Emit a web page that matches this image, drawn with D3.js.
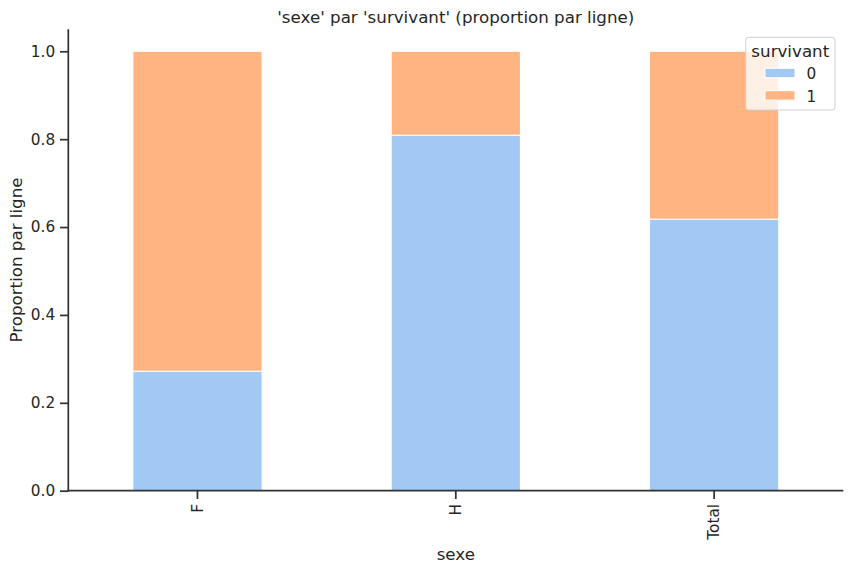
<!DOCTYPE html>
<html><head><meta charset="utf-8">
<script src="https://cdn.jsdelivr.net/npm/d3@7"></script>
<style>body{margin:0;background:#fff;} text{font-family:"DejaVu Sans",sans-serif;fill:#262626;}</style>
</head><body>
<svg id="c" width="853" height="571"></svg>
<script>
const categories = ["F", "H", "Total"];
const series = ["0", "1"];
const values0 = [0.272, 0.809, 0.618];
const values1 = [0.728, 0.191, 0.382];
const yTicks = [0.0, 0.2, 0.4, 0.6, 0.8, 1.0];
const colors = ["#a1c9f4", "#ffb482"];

const svg = d3.select("#c");
const mLeft = 68.3, mRight = 843.3, mTop = 29.3, mBottom = 490.7;
const tickFs = 15.3, labelFs = 16.7, tickLen = 8.3, tickPad = 4.9, lineW = 1.74, axisCol = "#333";
const y = d3.scaleLinear().domain([0, 1.05]).range([mBottom, mTop]);
const xl = d3.scaleLinear().domain([-0.5, categories.length - 0.5]).range([mLeft, mRight]);
const bw = xl(0.5) - xl(0);

const data = categories.map((c, i) => ({cat: c, i, v0: values0[i], v1: values1[i]}));
const stack = d3.stack().keys(["v0", "v1"])(data);

const g = svg.append("g");
stack.forEach((layer, k) => {
  g.selectAll(null).data(layer).enter().append("rect")
    .attr("x", d => xl(d.data.i) - bw / 2)
    .attr("width", bw)
    .attr("y", d => y(d[1]))
    .attr("height", d => y(d[0]) - y(d[1]))
    .attr("fill", colors[k])
    .attr("stroke", "#fff")
    .attr("stroke-width", 1);
});

const yAxis = d3.axisLeft(y).tickValues(yTicks).tickFormat(d3.format(".1f")).tickSize(tickLen).tickPadding(tickPad);
const ya = svg.append("g").attr("transform", `translate(${mLeft},0)`).call(yAxis);
ya.select(".domain").attr("d", `M0,${mTop}V${mBottom + lineW / 2}`).attr("stroke", axisCol).attr("stroke-width", lineW);
ya.selectAll(".tick line").attr("stroke", axisCol).attr("stroke-width", lineW);
ya.selectAll(".tick text").attr("font-size", tickFs).attr("fill", "#262626").style("font-family", "DejaVu Sans");

const xa = svg.append("g").attr("transform", `translate(0,${mBottom})`);
xa.append("line").attr("x1", mLeft - lineW / 2).attr("x2", mRight).attr("y1", 0).attr("y2", 0)
  .attr("stroke", axisCol).attr("stroke-width", lineW);
categories.forEach((c, i) => {
  const xx = xl(i);
  xa.append("line").attr("x1", xx).attr("x2", xx).attr("y1", 0).attr("y2", tickLen)
    .attr("stroke", axisCol).attr("stroke-width", lineW);
  xa.append("text").attr("transform", `translate(${xx + 0.346 * tickFs},${tickLen + tickPad}) rotate(-90)`)
    .attr("text-anchor", "end").attr("font-size", tickFs).text(c);
});

svg.append("text").attr("x", (mLeft + mRight) / 2).attr("y", 560).attr("text-anchor", "middle")
  .attr("font-size", labelFs).text("sexe");
svg.append("text").attr("transform", `translate(21.5,${(mTop + mBottom) / 2}) rotate(-90)`)
  .attr("text-anchor", "middle").attr("font-size", labelFs).text("Proportion par ligne");
svg.append("text").attr("x", (mLeft + mRight) / 2).attr("y", 23).attr("text-anchor", "middle")
  .attr("font-size", labelFs).text("'sexe' par 'survivant' (proportion par ligne)");

const lg = svg.append("g");
lg.append("rect").attr("x", 745.7).attr("y", 37.3).attr("width", 89.3).attr("height", 72.7)
  .attr("rx", 3).attr("fill", "#fff").attr("fill-opacity", 0.8).attr("stroke", "#d0d0d0").attr("stroke-width", 1);
lg.append("text").attr("x", 790.3).attr("y", 56.5).attr("text-anchor", "middle").attr("font-size", labelFs).text("survivant");
series.forEach((s, k) => {
  const yy = 73 + k * 22.4;
  lg.append("rect").attr("x", 765).attr("y", yy - 4.7).attr("width", 30).attr("height", 9.4)
    .attr("fill", colors[k]).attr("stroke", "#fff").attr("stroke-width", 1);
  lg.append("text").attr("x", 806.5).attr("y", yy + 6.3).attr("font-size", tickFs).text(s);
});
</script>
</body></html>
